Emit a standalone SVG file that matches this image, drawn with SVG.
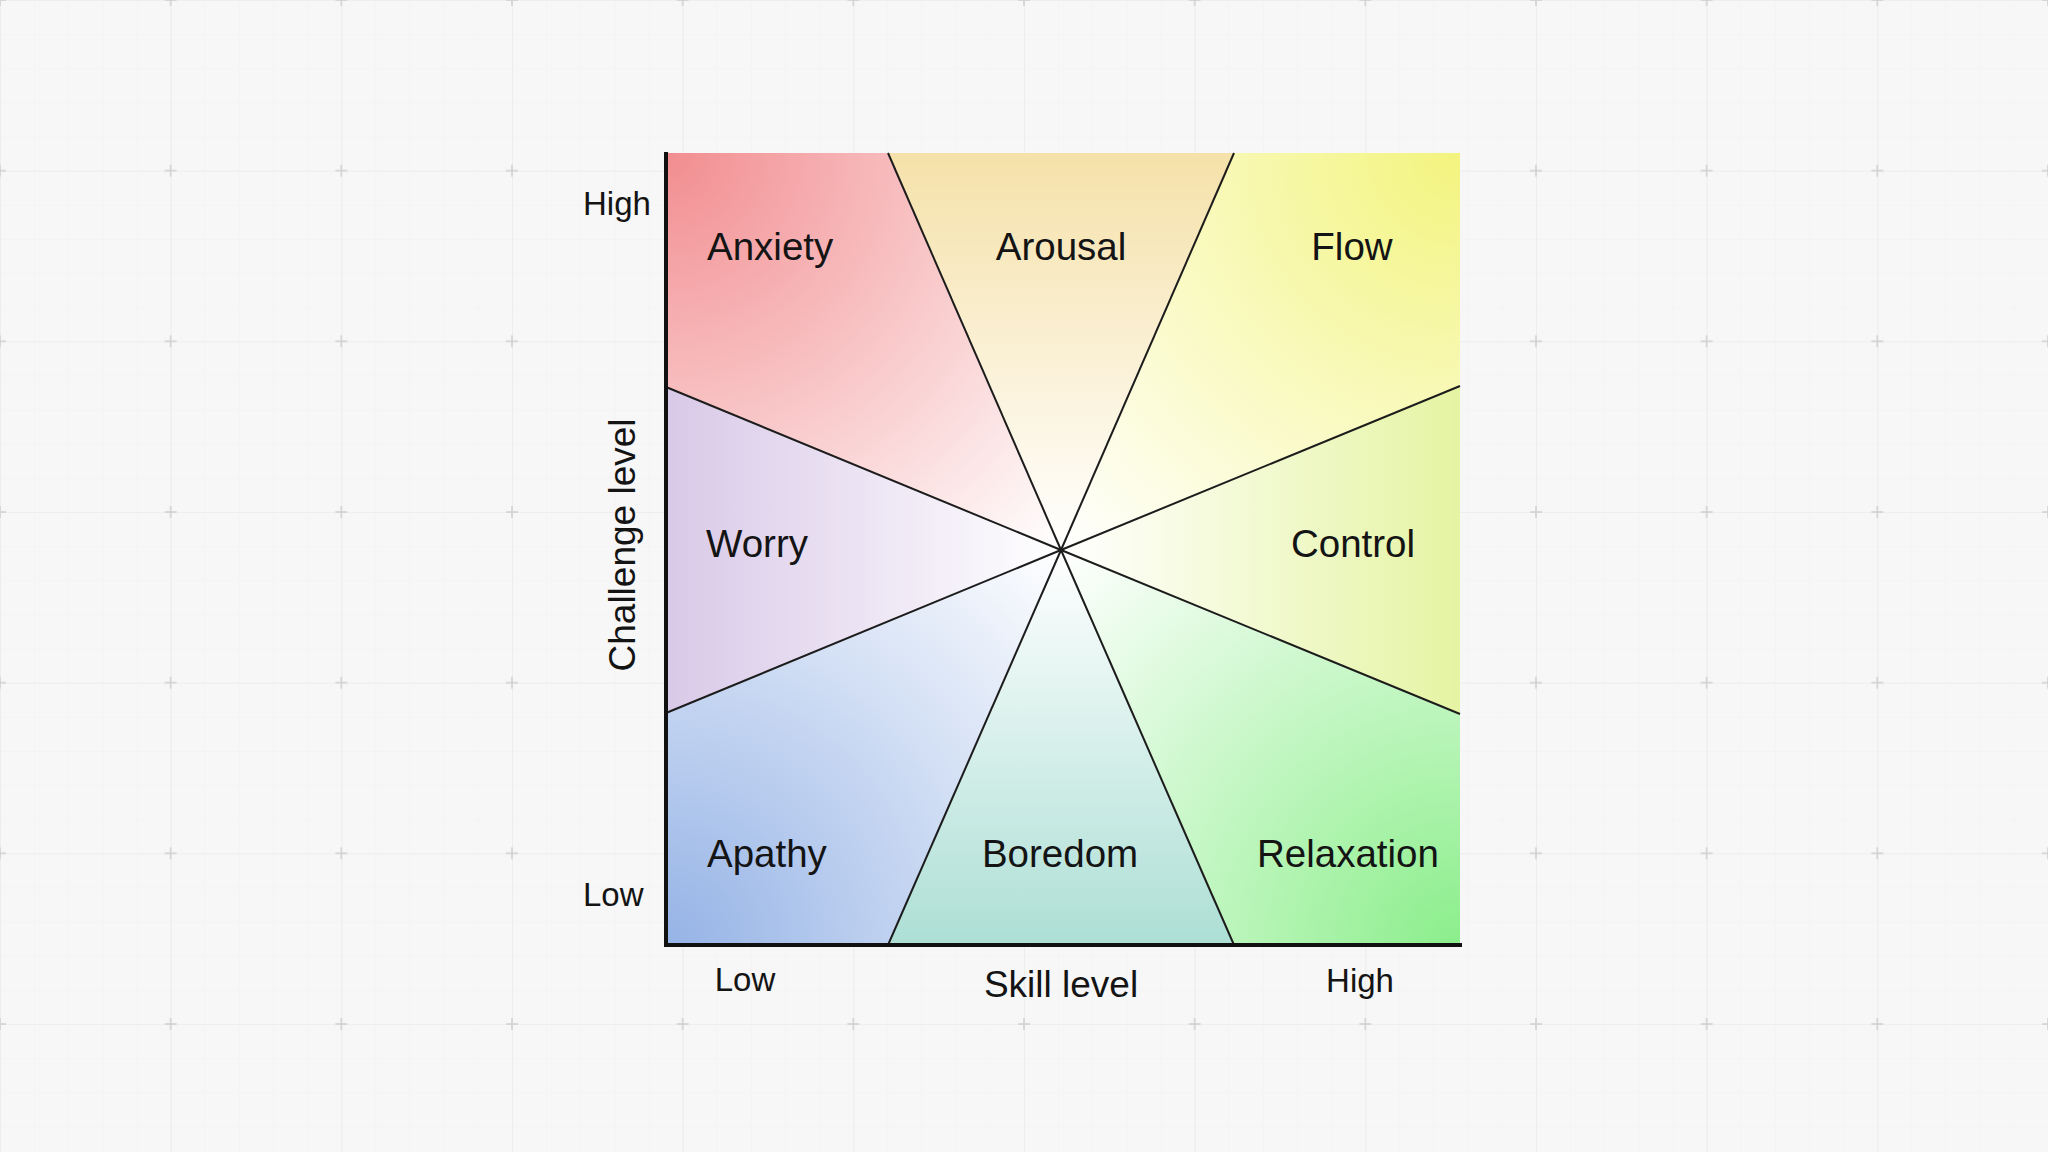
<svg xmlns="http://www.w3.org/2000/svg" width="2048" height="1152" viewBox="0 0 2048 1152">
  <style>
    .lbl { font-family: "Liberation Sans", Arial, sans-serif; font-size: 38.5px; fill: #141414; }
    .tick { font-family: "Liberation Sans", Arial, sans-serif; font-size: 33px; fill: #141414; }
    .title { font-family: "Liberation Sans", Arial, sans-serif; font-size: 37px; fill: #141414; }
    .div { stroke: #1c1c1c; stroke-width: 2; fill: none; }
    .axis { stroke: #111; stroke-width: 4; fill: none; }
  </style>
  <defs>
    <pattern id="minor" width="34.1333" height="34.1333" patternUnits="userSpaceOnUse">
      <path d="M0,0 H34.1333 M0,0 V34.1333" stroke="#f1f1f1" stroke-width="1" fill="none"/>
    </pattern>
    <pattern id="major" width="170.6667" height="170.6667" patternUnits="userSpaceOnUse">
      <path d="M0,0 H170.6667 M0,0 V170.6667" stroke="#e8e8e8" stroke-width="1.2" fill="none"/>
      <path d="M0,-6 V6 M-6,0 H6 M170.6667,-6 V6 M164.6667,0 H176.6667 M0,164.6667 V176.6667 M-6,170.6667 H6 M170.6667,164.6667 V176.6667 M164.6667,170.6667 H176.6667" stroke="#cfcfcf" stroke-width="1.5" fill="none"/>
    </pattern>
    <radialGradient id="gAnx" gradientUnits="userSpaceOnUse" cx="666" cy="153" r="560">
      <stop offset="0" stop-color="#f28d90"/><stop offset="1" stop-color="#ffffff"/>
    </radialGradient>
    <linearGradient id="gAro" gradientUnits="userSpaceOnUse" x1="1061" y1="153" x2="1061" y2="550">
      <stop offset="0" stop-color="#f5e1a9"/><stop offset="1" stop-color="#ffffff"/>
    </linearGradient>
    <radialGradient id="gFlo" gradientUnits="userSpaceOnUse" cx="1460" cy="153" r="560">
      <stop offset="0" stop-color="#f3f47e"/><stop offset="1" stop-color="#ffffff"/>
    </radialGradient>
    <linearGradient id="gCon" gradientUnits="userSpaceOnUse" x1="1460" y1="550" x2="1061" y2="550">
      <stop offset="0" stop-color="#e5f4a3"/><stop offset="1" stop-color="#ffffff"/>
    </linearGradient>
    <radialGradient id="gRel" gradientUnits="userSpaceOnUse" cx="1460" cy="945" r="560">
      <stop offset="0" stop-color="#8bee8b"/><stop offset="1" stop-color="#ffffff"/>
    </radialGradient>
    <linearGradient id="gBor" gradientUnits="userSpaceOnUse" x1="1061" y1="945" x2="1061" y2="550">
      <stop offset="0" stop-color="#addfd5"/><stop offset="1" stop-color="#ffffff"/>
    </linearGradient>
    <radialGradient id="gApa" gradientUnits="userSpaceOnUse" cx="666" cy="945" r="560">
      <stop offset="0" stop-color="#95b3e6"/><stop offset="1" stop-color="#ffffff"/>
    </radialGradient>
    <linearGradient id="gWor" gradientUnits="userSpaceOnUse" x1="666" y1="550" x2="1061" y2="550">
      <stop offset="0" stop-color="#d9c9e8"/><stop offset="1" stop-color="#ffffff"/>
    </linearGradient>
  </defs>

  <rect x="0" y="0" width="2048" height="1152" fill="#f7f7f7"/>
  <rect x="0" y="0" width="2048" height="1152" fill="url(#minor)"/>
  <rect x="0" y="0" width="2048" height="1152" fill="url(#major)"/>

  <g id="anxiety">
    <polygon points="666,153 888,153 1061,550 666,387" fill="url(#gAnx)"/>
    <text class="lbl" x="707" y="260">Anxiety</text>
  </g>
  <g id="arousal">
    <polygon points="888,153 1234,153 1061,550" fill="url(#gAro)"/>
    <text class="lbl" x="1061" y="260" text-anchor="middle">Arousal</text>
  </g>
  <g id="flow">
    <polygon points="1234,153 1460,153 1460,386 1061,550" fill="url(#gFlo)"/>
    <text class="lbl" x="1352" y="260" text-anchor="middle">Flow</text>
  </g>
  <g id="control">
    <polygon points="1460,386 1460,714 1061,550" fill="url(#gCon)"/>
    <text class="lbl" x="1353" y="557" text-anchor="middle">Control</text>
  </g>
  <g id="relaxation">
    <polygon points="1460,714 1460,945 1234,945 1061,550" fill="url(#gRel)"/>
    <text class="lbl" x="1348" y="867" text-anchor="middle">Relaxation</text>
  </g>
  <g id="boredom">
    <polygon points="1234,945 888,945 1061,550" fill="url(#gBor)"/>
    <text class="lbl" x="1060" y="867" text-anchor="middle">Boredom</text>
  </g>
  <g id="apathy">
    <polygon points="888,945 666,945 666,713 1061,550" fill="url(#gApa)"/>
    <text class="lbl" x="707" y="867">Apathy</text>
  </g>
  <g id="worry">
    <polygon points="666,713 666,387 1061,550" fill="url(#gWor)"/>
    <text class="lbl" x="706" y="557">Worry</text>
  </g>

  <g id="connectors">
    <line class="div" x1="1061" y1="550" x2="888" y2="153"/>
    <line class="div" x1="1061" y1="550" x2="1234" y2="153"/>
    <line class="div" x1="1061" y1="550" x2="1460" y2="386"/>
    <line class="div" x1="1061" y1="550" x2="1460" y2="714"/>
    <line class="div" x1="1061" y1="550" x2="1234" y2="945"/>
    <line class="div" x1="1061" y1="550" x2="888" y2="945"/>
    <line class="div" x1="1061" y1="550" x2="666" y2="713"/>
    <line class="div" x1="1061" y1="550" x2="666" y2="387"/>
    <path class="axis" d="M666,152 V945 H1462"/>
  </g>

  <g id="axis-labels">
    <text class="tick" x="583" y="215">High</text>
    <text class="tick" x="583" y="906">Low</text>
    <text class="tick" x="745" y="991" text-anchor="middle">Low</text>
    <text class="tick" x="1360" y="992" text-anchor="middle">High</text>
    <text class="title" x="1061" y="997" text-anchor="middle">Skill level</text>
    <text class="title" x="0" y="0" text-anchor="middle" transform="translate(635,545) rotate(-90)">Challenge level</text>
  </g>
</svg>
